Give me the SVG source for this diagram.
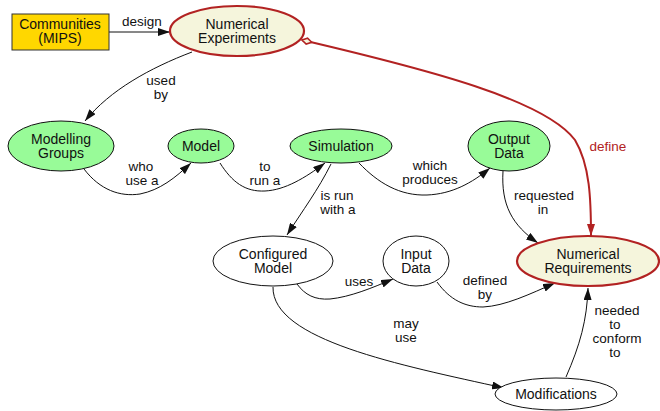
<svg xmlns="http://www.w3.org/2000/svg" width="660" height="411" viewBox="0 0 660 411">
  <style>
    text { font-family: "Liberation Sans", Arial, Helvetica, sans-serif; font-size: 14px; fill: #111; text-anchor: middle; }
    .lbl { font-size: 13.5px; }
    .red-lbl { fill: #b22222; }
    .green { fill: #98fb98; stroke: #111; stroke-width: 1; }
    .plain { fill: #fff; stroke: #111; stroke-width: 1; }
    .key { fill: #f5f5dc; stroke: #b22222; stroke-width: 2.2; }
    .box { fill: #ffd700; stroke: #333; stroke-width: 1; }
    .edge { fill: none; stroke: #111; stroke-width: 1; marker-end: url(#arrow); }
    .edge-red { fill: none; stroke: #b22222; stroke-width: 2; marker-end: url(#arrow-red); marker-start: url(#diamond); }
  </style>
  <defs>
    <marker id="arrow" viewBox="0 0 12 8" refX="12" refY="4" markerWidth="12" markerHeight="8" markerUnits="userSpaceOnUse" orient="auto">
      <path d="M0,0 L12,4 L0,8 Z" fill="#111"/>
    </marker>
    <marker id="arrow-red" viewBox="0 0 12 8" refX="12" refY="4" markerWidth="12" markerHeight="8" markerUnits="userSpaceOnUse" orient="auto">
      <path d="M0,0 L12,4 L0,8 Z" fill="#b22222"/>
    </marker>
    <marker id="diamond" viewBox="0 0 12 8" refX="1" refY="4" markerWidth="12" markerHeight="8" markerUnits="userSpaceOnUse" orient="auto">
      <path d="M1,4 L6,1 L11,4 L6,7 Z" fill="#f5f5dc" stroke="#b22222" stroke-width="1.6"/>
    </marker>
  </defs>

  <!-- connectors -->
  <g id="connectors">
    <path class="edge" d="M109,32 L170,32"/>
    <path class="edge" d="M192,52 C150,68 110,90 85,121"/>
    <path class="edge" d="M84,169 C100,190 120,197 140,194 C160,190 175,178 191,163"/>
    <path class="edge" d="M220,163 C232,182 245,192 265,191 C285,190 305,178 325,163"/>
    <path class="edge" d="M359,163 C378,183 400,196 427,195 C452,194 472,183 490,168"/>
    <path class="edge" d="M331,164 C318,190 303,210 287,235"/>
    <path class="edge" d="M503,171 C501,205 512,225 538,243"/>
    <path class="edge-red" d="M302,40 C430,70 545,100 575,140 C590,165 591,200 591,236"/>
    <path class="edge" d="M297,284 C305,295 315,300 330,299 C350,297 372,288 393,279"/>
    <path class="edge" d="M437,282 C450,300 465,307 483,307 C505,306 530,294 555,283"/>
    <path class="edge" d="M273,287 C272,340 400,365 504,388"/>
    <path class="edge" d="M566,377 C580,345 587,320 588,288"/>

    <text class="lbl" x="142" y="26">design</text>
    <text class="lbl" x="161" y="85">used</text>
    <text class="lbl" x="161" y="99">by</text>
    <text class="lbl" x="141" y="171">who</text>
    <text class="lbl" x="142" y="185">use a</text>
    <text class="lbl" x="265" y="171">to</text>
    <text class="lbl" x="265" y="185">run a</text>
    <text class="lbl" x="430" y="170">which</text>
    <text class="lbl" x="430" y="184">produces</text>
    <text class="lbl" x="337" y="200">is run</text>
    <text class="lbl" x="338" y="214">with a</text>
    <text class="lbl" x="544" y="200">requested</text>
    <text class="lbl" x="543" y="214">in</text>
    <text class="lbl red-lbl" x="608" y="151">define</text>
    <text class="lbl" x="359" y="286">uses</text>
    <text class="lbl" x="485" y="285">defined</text>
    <text class="lbl" x="485" y="299">by</text>
    <text class="lbl" x="406" y="328">may</text>
    <text class="lbl" x="406" y="342">use</text>
    <text class="lbl" x="617" y="315">needed</text>
    <text class="lbl" x="615" y="329">to</text>
    <text class="lbl" x="617" y="343">conform</text>
    <text class="lbl" x="615" y="357">to</text>
  </g>

  <!-- nodes -->
  <g id="communities">
    <rect class="box" x="12" y="14" width="97" height="36"/>
    <text x="60" y="29">Communities</text>
    <text x="60" y="43">(MIPS)</text>
  </g>
  <g id="numerical-experiments">
    <ellipse class="key" cx="237" cy="31" rx="67" ry="25"/>
    <text x="237" y="29">Numerical</text>
    <text x="237" y="43">Experiments</text>
  </g>
  <g id="modelling-groups">
    <ellipse class="green" cx="61" cy="146" rx="53" ry="25"/>
    <text x="61" y="144">Modelling</text>
    <text x="61" y="158">Groups</text>
  </g>
  <g id="model">
    <ellipse class="green" cx="201" cy="146" rx="33" ry="17"/>
    <text x="201" y="151">Model</text>
  </g>
  <g id="simulation">
    <ellipse class="green" cx="341" cy="146" rx="51" ry="17"/>
    <text x="341" y="151">Simulation</text>
  </g>
  <g id="output-data">
    <ellipse class="green" cx="509" cy="146" rx="41" ry="25"/>
    <text x="509" y="144">Output</text>
    <text x="509" y="158">Data</text>
  </g>
  <g id="configured-model">
    <ellipse class="plain" cx="273" cy="261" rx="60" ry="25"/>
    <text x="273" y="259">Configured</text>
    <text x="273" y="273">Model</text>
  </g>
  <g id="input-data">
    <ellipse class="plain" cx="416" cy="261" rx="33" ry="25"/>
    <text x="416" y="259">Input</text>
    <text x="416" y="273">Data</text>
  </g>
  <g id="numerical-requirements">
    <ellipse class="key" cx="588" cy="261" rx="71" ry="25"/>
    <text x="588" y="259">Numerical</text>
    <text x="588" y="273">Requirements</text>
  </g>
  <g id="modifications">
    <ellipse class="plain" cx="556" cy="394" rx="61" ry="16"/>
    <text x="556" y="399">Modifications</text>
  </g>
</svg>
